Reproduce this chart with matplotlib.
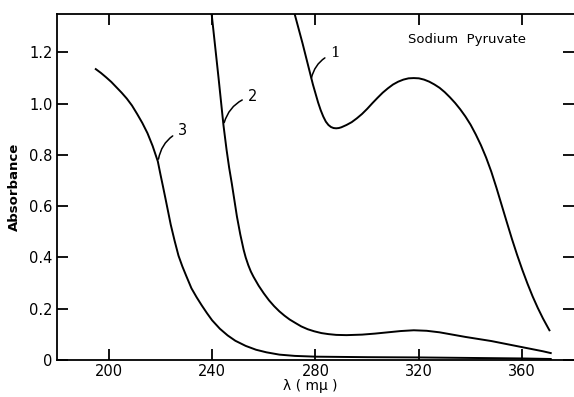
import matplotlib
matplotlib.use("Agg")
import matplotlib.pyplot as plt

# Curve 1
wl1 = [271, 273, 275, 277, 279, 281, 282, 283, 284, 285, 286, 287, 288, 289, 290, 292, 294, 296, 298, 300,
       302, 304, 306, 308, 310, 312, 314, 316, 318, 320, 322, 324, 326, 328, 330, 332, 334, 336, 338, 340,
       342, 344, 346, 348, 350, 352, 354, 356, 358, 360, 362, 364, 366, 368, 370, 370.5]
ab1 = [1.385, 1.31, 1.235, 1.155, 1.075, 1.005, 0.975, 0.950, 0.930, 0.917, 0.909, 0.905, 0.904, 0.905, 0.908,
       0.917, 0.928, 0.943, 0.960, 0.980, 1.002, 1.023, 1.043, 1.060, 1.075, 1.086, 1.094, 1.099, 1.100, 1.099,
       1.094, 1.086, 1.075, 1.062, 1.045, 1.025, 1.003, 0.978, 0.950, 0.918, 0.880, 0.838, 0.790, 0.735, 0.672,
       0.605, 0.538, 0.472, 0.410, 0.352, 0.298, 0.248, 0.203, 0.162, 0.125, 0.116]
# Curve 2
wl2 = [239.5, 241, 242.5, 244.4, 245.6, 246.6, 247.6, 248.6, 249.6, 250.9, 252.2, 253, 254, 255, 256, 258, 260,
       262, 264, 266, 268, 270, 272.3, 274.5, 277, 279.5, 282.3, 285, 288, 292, 298, 303, 308, 313, 318, 323,
       328, 333, 338, 343, 348, 353, 358, 363, 368, 371]
ab2 = [1.38, 1.24, 1.10, 0.916, 0.82, 0.75, 0.69, 0.625, 0.56, 0.49, 0.43, 0.40, 0.37, 0.345, 0.325, 0.29, 0.26,
       0.233, 0.21, 0.19, 0.173, 0.158, 0.144, 0.131, 0.12, 0.112, 0.105, 0.101, 0.098, 0.097, 0.099, 0.103,
       0.108, 0.113, 0.116, 0.114, 0.108, 0.099, 0.090, 0.082, 0.074, 0.064, 0.054, 0.044, 0.034, 0.027]
# Curve 3
wl3 = [195, 197, 199, 201, 203, 205, 207, 209, 211, 213, 215, 217, 219, 220, 221, 222, 223, 224, 225.5, 227,
       228.5, 230, 232, 234, 236, 238, 240, 243, 246, 249, 253, 257, 261, 266, 272, 280, 300, 320, 340, 360, 371]
ab3 = [1.135, 1.12, 1.103, 1.085, 1.064, 1.043, 1.02, 0.993, 0.96, 0.925, 0.885, 0.835, 0.775, 0.725, 0.677,
       0.628, 0.578, 0.528, 0.465, 0.407, 0.365, 0.328, 0.28, 0.245, 0.213, 0.183, 0.155, 0.122, 0.096, 0.075,
       0.055, 0.040, 0.030, 0.021, 0.016, 0.013, 0.011, 0.010, 0.008, 0.006, 0.004]

xticks = [200, 240, 280, 320, 360]
yticks = [0, 0.2, 0.4, 0.6, 0.8, 1.0, 1.2]
ytick_labels = ["0", "0.2", "0.4", "0.6", "0.8", "1.0", "1.2"]

fig = plt.figure(figsize=(5.74, 3.97), dpi=100)
ax = fig.add_axes([57/574, 37/397, 517/574, 346/397])
ax.set_xlim(180, 380)
ax.set_ylim(0, 1.35)

for wl, ab in [(wl1, ab1), (wl2, ab2), (wl3, ab3)]:
    ax.plot(wl, ab, color="black", lw=1.4)

ax.spines["right"].set_visible(False)
for s in ["left", "bottom", "top"]:
    ax.spines[s].set_linewidth(1.3)

ax.set_xticks(xticks)
ax.set_yticks(yticks)
ax.set_yticklabels(ytick_labels)
ax.tick_params(axis="both", direction="in", length=8, width=1.3, labelsize=10.5, top=True, right=True)
ax.tick_params(axis="x", pad=3)
ax.tick_params(axis="y", pad=3)

ax.set_xlabel("λ ( mμ )", fontsize=10, va="top")
ax.xaxis.set_label_coords(0.489, -0.055)
ax.set_ylabel("Absorbance", fontsize=9.5, fontweight="bold", labelpad=6)

ax.text(338.8, 1.25, "Sodium  Pyruvate", ha="center", va="center", fontsize=9.5)

arrow = dict(arrowstyle="-", color="black", lw=1.1, connectionstyle="arc3,rad=0.3")
ax.annotate("1", xy=(278.2, 1.09), xytext=(287.5, 1.17), fontsize=11, family="DejaVu Serif",
            ha="center", va="bottom", arrowprops=arrow)
ax.annotate("2", xy=(244.4, 0.916), xytext=(255.5, 1.0), fontsize=10.5,
            ha="center", va="bottom", arrowprops=arrow)
ax.annotate("3", xy=(219.1, 0.773), xytext=(228.5, 0.865), fontsize=10.5,
            ha="center", va="bottom", arrowprops=arrow)

fig.savefig("out.png", dpi=100)
